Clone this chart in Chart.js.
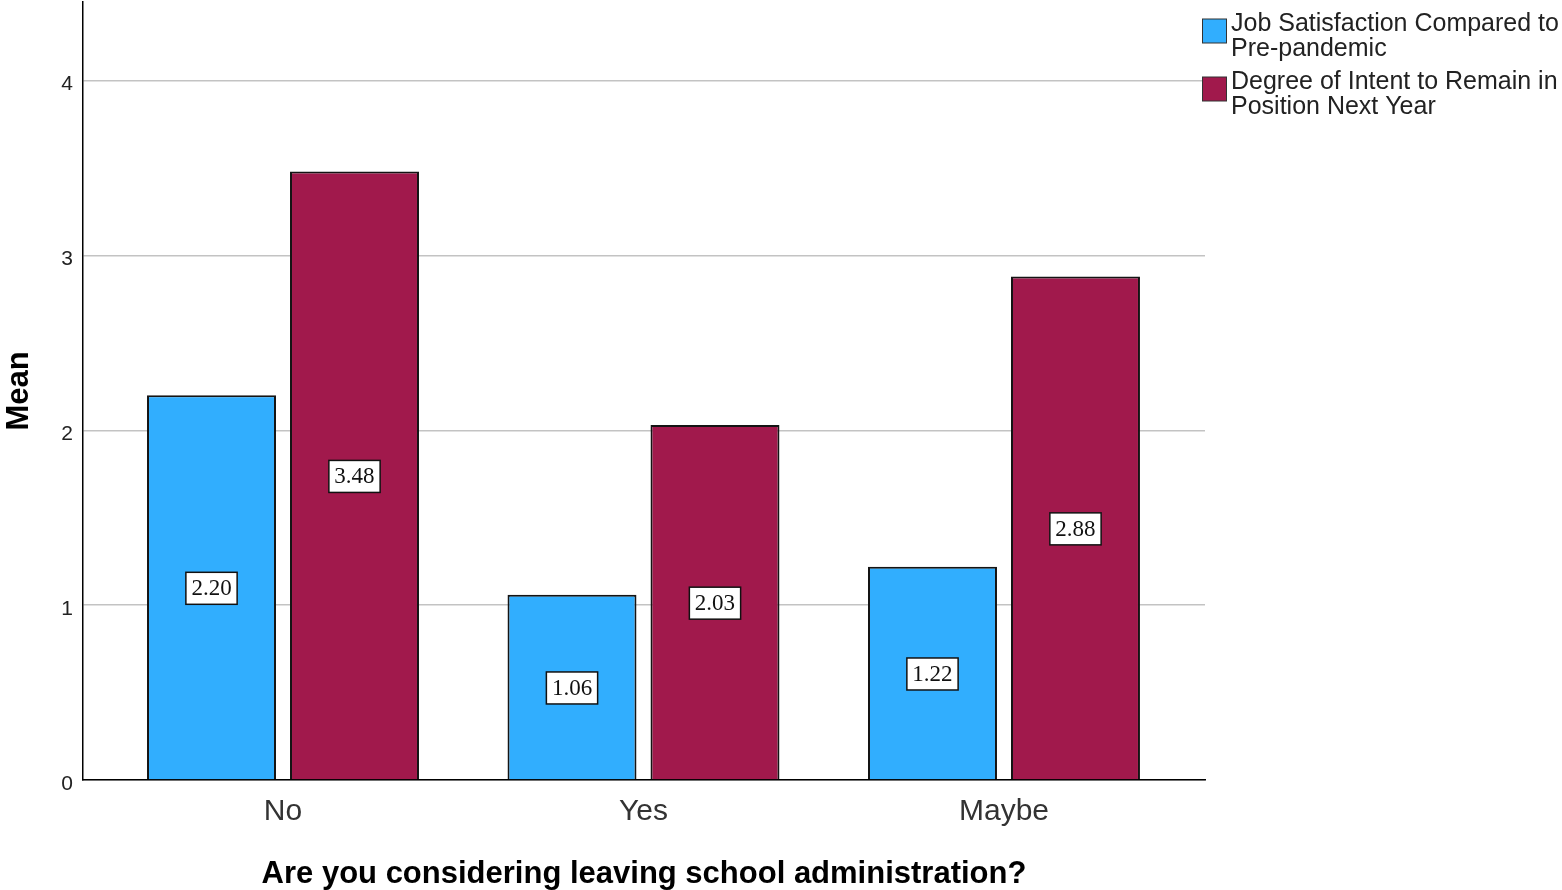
<!DOCTYPE html>
<html>
<head>
<meta charset="utf-8">
<script src="https://cdn.jsdelivr.net/npm/chart.js@4.4.1/dist/chart.umd.min.js"></script>
<style>
  html, body { margin: 0; padding: 0; background: #fff; }
  #wrap { width: 1562px; height: 890px; position: relative; }
</style>
</head>
<body>
<div id="wrap"><canvas id="c" width="1562" height="890"></canvas></div>
<script>
// Group means by answer to "considering leaving?"
const categories = ['No', 'Yes', 'Maybe'];
const seriesNames = [
  'Job Satisfaction Compared to Pre-pandemic',
  'Degree of Intent to Remain in Position Next Year'
];
const jobSatisfaction = [2.20, 1.06, 1.22];
const intentToRemain = [3.48, 2.03, 2.88];
const yTicks = [0, 1, 2, 3, 4];
const seriesColors = ['#31AEFE', '#A1194C'];

const SANS = '"Liberation Sans", Arial, sans-serif';
const SERIF = '"Liberation Serif", "Times New Roman", serif';

// Boxed value labels in the middle of each bar
const valueBoxes = {
  id: 'valueBoxes',
  afterDatasetsDraw(chart) {
    const ctx = chart.ctx;
    ctx.save();
    ctx.font = '23px ' + SERIF;
    ctx.textAlign = 'center';
    ctx.textBaseline = 'middle';
    chart.data.datasets.forEach((ds, di) => {
      const meta = chart.getDatasetMeta(di);
      meta.data.forEach((el, i) => {
        const txt = ds.data[i].y.toFixed(2);
        const cx = el.x;
        const cy = (el.y + el.base) / 2 + 1;
        const w = ctx.measureText(txt).width + 11;
        const h = 32;
        ctx.fillStyle = '#fff';
        ctx.fillRect(cx - w / 2, cy - h / 2, w, h);
        ctx.strokeStyle = '#111';
        ctx.lineWidth = 1.5;
        ctx.strokeRect(cx - w / 2, cy - h / 2, w, h);
        ctx.fillStyle = '#111';
        ctx.fillText(txt, cx, cy + 1);
      });
    });
    ctx.restore();
  }
};

// Legend with wrapped labels at the top right
const wrappedLegend = {
  id: 'wrappedLegend',
  afterDraw(chart) {
    const ctx = chart.ctx;
    ctx.save();
    ctx.font = '25px ' + SANS;
    ctx.textAlign = 'left';
    ctx.textBaseline = 'alphabetic';
    const boxX = 1202.5, textX = 1231, maxW = 333;
    chart.data.datasets.forEach((ds, di) => {
      const top = 19 + di * 58;
      ctx.fillStyle = ds.backgroundColor;
      ctx.fillRect(boxX, top, 24, 24);
      ctx.strokeStyle = '#333';
      ctx.lineWidth = 1;
      ctx.strokeRect(boxX, top, 24, 24);
      const words = ds.label.split(' ');
      const lines = [];
      let cur = '';
      words.forEach(w => {
        const test = cur ? cur + ' ' + w : w;
        if (ctx.measureText(test).width > maxW && cur) { lines.push(cur); cur = w; }
        else cur = test;
      });
      if (cur) lines.push(cur);
      ctx.fillStyle = '#222';
      lines.forEach((ln, li) => ctx.fillText(ln, textX, top + 12 + li * 24.5));
    });
    ctx.restore();
  }
};

new Chart(document.getElementById('c'), {
  type: 'bar',
  data: {
    datasets: [
      {
        label: seriesNames[0],
        data: jobSatisfaction.map((v, i) => ({ x: i, y: v })),
        backgroundColor: seriesColors[0],
        borderColor: '#141414',
        borderWidth: 2,
        categoryPercentage: 0.7933,
        barPercentage: 0.902
      },
      {
        label: seriesNames[1],
        data: intentToRemain.map((v, i) => ({ x: i, y: v })),
        backgroundColor: seriesColors[1],
        borderColor: '#141414',
        borderWidth: 2,
        categoryPercentage: 0.7933,
        barPercentage: 0.902
      }
    ]
  },
  options: {
    responsive: false,
    devicePixelRatio: 1,
    animation: false,
    layout: { padding: { top: 2, right: 357, left: 0, bottom: 0 } },
    plugins: { legend: { display: false }, tooltip: { enabled: false } },
    scales: {
      x: {
        type: 'linear',
        min: -0.5548,
        max: 2.5576,
        offset: false,
        grid: { display: false, drawTicks: false, offset: false },
        border: { display: true, color: '#000', width: 1.5 },
        afterBuildTicks: s => { s.ticks = categories.map((c, i) => ({ value: i })); },
        ticks: {
          callback: v => categories[v],
          font: { family: SANS, size: 30 },
          color: '#333',
          padding: 14,
          maxRotation: 0,
          autoSkip: false
        },
        title: {
          display: true,
          text: 'Are you considering leaving school administration?',
          font: { family: SANS, size: 31, weight: 'bold', lineHeight: 1 },
          color: '#000',
          padding: { top: 0, bottom: 0 }
        },
        afterFit: s => { s.height = 110; s.paddingLeft = 0; s.paddingRight = 0; }
      },
      y: {
        min: 0,
        max: 4.45,
        afterBuildTicks: s => { s.ticks = yTicks.map(v => ({ value: v })); },
        grid: { color: '#c3c3c3', lineWidth: 1.5, drawTicks: false },
        border: { display: true, color: '#000', width: 1.5 },
        ticks: {
          font: { family: SANS, size: 21 },
          color: '#222',
          padding: 10,
          labelOffset: 4
        },
        title: {
          display: true,
          text: 'Mean',
          font: { family: SANS, size: 31, weight: 'bold', lineHeight: 1 },
          color: '#000',
          padding: { top: 4, bottom: 0 }
        },
        afterFit: s => { s.width = 83; s.paddingTop = 0; s.paddingBottom = 0; }
      }
    }
  },
  plugins: [valueBoxes, wrappedLegend]
});
</script>
</body>
</html>
